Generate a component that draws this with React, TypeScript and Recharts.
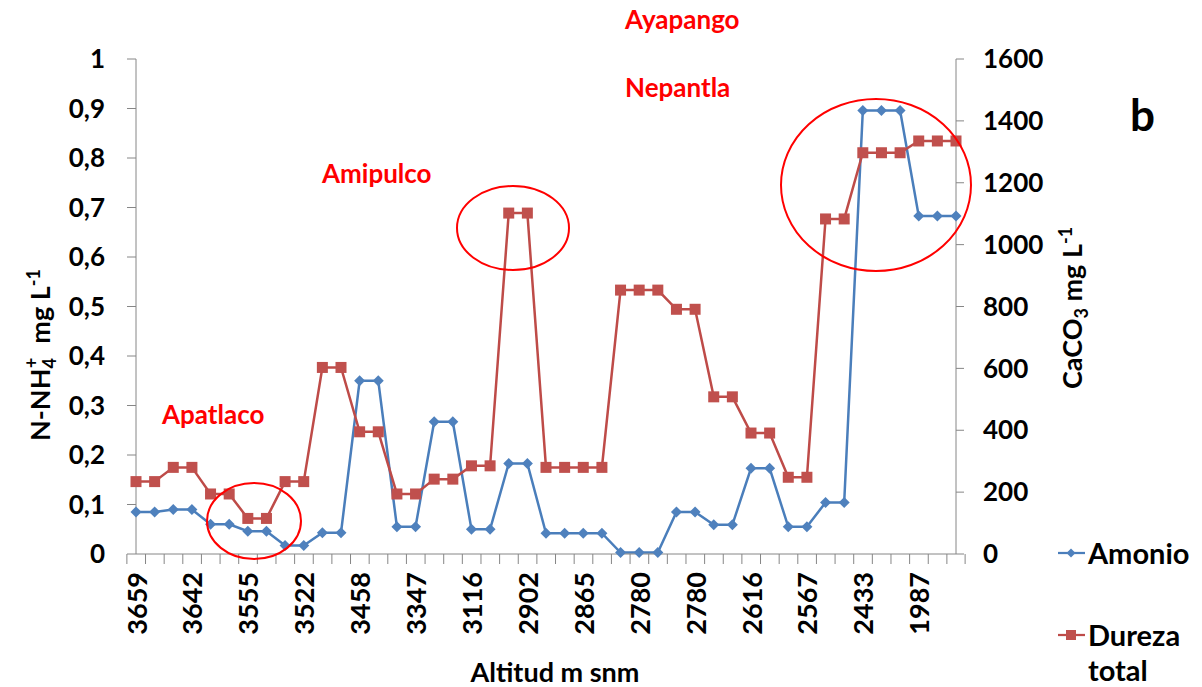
import React from "react";
import { LineChart, Line, XAxis, YAxis, Legend } from "recharts";

// Altitude of each site (m snm); every site has three sampling points
const altitudes = [
  "3659", "3642", "3555", "3522", "3458", "3347", "3116", "2902",
  "2865", "2780", "2780", "2616", "2567", "2433", "1987",
];
const categories = altitudes.flatMap((a) => [a, a, a]);

// N-NH4+ (mg L-1)
const amonio = [
  0.085, 0.085, 0.09, 0.09, 0.06, 0.06, 0.046, 0.046, 0.017, 0.017,
  0.043, 0.043, 0.35, 0.35, 0.055, 0.055, 0.267, 0.267, 0.05, 0.05,
  0.183, 0.183, 0.042, 0.042, 0.042, 0.042, 0.003, 0.003, 0.003, 0.085,
  0.085, 0.059, 0.059, 0.173, 0.173, 0.055, 0.055, 0.104, 0.104, 0.896,
  0.896, 0.896, 0.683, 0.683, 0.683,
];

// CaCO3 (mg L-1)
const dureza = [
  234, 234, 280, 280, 194, 194, 115, 115, 234, 234,
  603, 603, 395, 395, 194, 194, 242, 242, 285, 285,
  1102, 1102, 280, 280, 280, 280, 853, 853, 853, 791,
  791, 508, 508, 391, 391, 248, 248, 1083, 1083, 1297,
  1297, 1297, 1335, 1335, 1335,
];

const leftTicks = [0, 0.1, 0.2, 0.3, 0.4, 0.5, 0.6, 0.7, 0.8, 0.9, 1];
const rightTicks = [0, 200, 400, 600, 800, 1000, 1200, 1400, 1600];

const data = categories.map((name, i) => ({
  name,
  amonio: amonio[i],
  dureza: dureza[i],
}));

const FONT = "Lato, 'Open Sans', sans-serif";
const AXIS = "#868686";
const BLUE = "#4A7EBB";
const RED = "#BE4B48";
const PLOT_W = 820;
const BAND = PLOT_W / categories.length;

const XTick = (props: any) => {
  const { x, y, payload, index } = props;
  const half = BAND / 2;
  const ty = y + 18;
  return (
    <g>
      <line x1={x - half} y1={y} x2={x - half} y2={y + 10} stroke={AXIS} />
      {index === categories.length - 1 && (
        <line x1={x + half} y1={y} x2={x + half} y2={y + 10} stroke={AXIS} />
      )}
      {index % 3 === 0 && (
        <text
          x={x}
          y={ty}
          transform={`rotate(-90 ${x} ${ty})`}
          textAnchor="end"
          dominantBaseline="central"
          fontFamily={FONT}
          fontWeight={700}
          fontSize={27}
          fill="#000"
        >
          {payload.value}
        </text>
      )}
    </g>
  );
};

const Diamond = (props: any) => {
  const { cx, cy, index } = props;
  if (cx == null || cy == null) return <g key={index} />;
  const r = 5.5;
  return (
    <polygon
      key={index}
      points={`${cx},${cy - r} ${cx + r},${cy} ${cx},${cy + r} ${cx - r},${cy}`}
      fill="#4F81BD"
    />
  );
};

const Square = (props: any) => {
  const { cx, cy, index } = props;
  if (cx == null || cy == null) return <g key={index} />;
  const s = 11;
  return <rect key={index} x={cx - s / 2} y={cy - s / 2} width={s} height={s} fill="#C0504D" />;
};

const renderLegend = ({ payload }: any) => (
  <div style={{ fontFamily: FONT, fontWeight: 700, fontSize: 29, color: "#000" }}>
    {(payload || []).map((e: any, i: number) => (
      <div key={i} style={{ display: "flex", alignItems: "flex-start", marginBottom: 47 }}>
        <svg width={32} height={35} style={{ flex: "none" }}>
          <line x1={2} y1={18} x2={29} y2={18} stroke={e.color} strokeWidth={2.25} />
          {e.dataKey === "amonio" ? (
            <polygon points="15,13.5 19.5,18 15,22.5 10.5,18" fill="#4F81BD" />
          ) : (
            <rect x={10} y={13} width={10} height={10} fill="#C0504D" />
          )}
        </svg>
        <span style={{ lineHeight: "35px", width: 110 }}>{e.value}</span>
      </div>
    ))}
  </div>
);

export default function App() {
  const red = { fontFamily: FONT, fontWeight: 700, fontSize: 26, fill: "#FF0000" };
  return (
    <div style={{ position: "absolute", left: 0, top: 0, width: 1202, height: 687, background: "#fff" }}>
      <LineChart
        width={1202}
        height={687}
        data={data}
        margin={{ top: 59, right: 166, bottom: 33, left: 56 }}
      >
        <XAxis
          dataKey="name"
          interval={0}
          height={100}
          tickSize={0}
          tickMargin={0}
          tickLine={false}
          axisLine={{ stroke: AXIS }}
          tick={XTick}
        />
        <YAxis
          yAxisId="left"
          width={80}
          domain={[0, 1]}
          ticks={leftTicks}
          tickFormatter={(v: number) => String(v).replace(".", ",")}
          tickSize={9}
          tickMargin={22}
          axisLine={{ stroke: AXIS }}
          tickLine={{ stroke: AXIS }}
          tick={{ fontFamily: FONT, fontWeight: 700, fontSize: 26, fill: "#000" }}
        />
        <YAxis
          yAxisId="right"
          orientation="right"
          width={80}
          domain={[0, 1600]}
          ticks={rightTicks}
          tickSize={8}
          tickMargin={19}
          axisLine={{ stroke: AXIS }}
          tickLine={{ stroke: AXIS }}
          tick={{ fontFamily: FONT, fontWeight: 700, fontSize: 26, fill: "#000", textAnchor: "start" }}
        />
        <Legend
          layout="vertical"
          align="center"
          verticalAlign="middle"
          wrapperStyle={{ left: 1056, top: 535, width: 146 }}
          content={renderLegend}
        />
        <Line
          yAxisId="left"
          dataKey="amonio"
          name="Amonio"
          stroke={BLUE}
          strokeWidth={2.5}
          dot={Diamond}
          activeDot={false}
          isAnimationActive={false}
        />
        <Line
          yAxisId="right"
          dataKey="dureza"
          name="Dureza total"
          stroke={RED}
          strokeWidth={2.5}
          dot={Square}
          activeDot={false}
          isAnimationActive={false}
        />
      </LineChart>
      <svg
        width={1202}
        height={687}
        style={{ position: "absolute", left: 0, top: 0, pointerEvents: "none" }}
      >
        <ellipse cx={254} cy={521} rx={47} ry={38} fill="none" stroke="#FF0000" strokeWidth={2} />
        <ellipse cx={513} cy={228} rx={56} ry={42} fill="none" stroke="#FF0000" strokeWidth={2} />
        <ellipse cx={876} cy={185} rx={95} ry={86} fill="none" stroke="#FF0000" strokeWidth={2} />
        <text x={625} y={29} {...red}>Ayapango</text>
        <text x={625} y={97} {...red}>Nepantla</text>
        <text x={322} y={183} {...red}>Amipulco</text>
        <text x={162} y={424} {...red}>Apatlaco</text>
        <text x={1130} y={131} fontFamily={FONT} fontWeight={700} fontSize={44} fill="#000">b</text>
        <text x={555} y={682} textAnchor="middle" fontFamily={FONT} fontWeight={700} fontSize={27} fill="#000">
          Altitud m snm
        </text>
        <text
          x={50}
          y={355}
          transform="rotate(-90 50 355)"
          textAnchor="middle"
          fontFamily={FONT}
          fontWeight={700}
          fontSize={27}
          fill="#000"
        >
          N-NH<tspan dy={6} fontSize={18}>4</tspan>
          <tspan dx={-10} dy={-18} fontSize={18}>+</tspan>
          <tspan dx={14} dy={12}>{"mg L"}</tspan>
          <tspan dy={-10} fontSize={18}>-1</tspan>
        </text>
        <text
          x={1082}
          y={308}
          transform="rotate(-90 1082 308)"
          textAnchor="middle"
          fontFamily={FONT}
          fontWeight={700}
          fontSize={27}
          fill="#000"
        >
          CaCO<tspan dy={6} fontSize={18}>3</tspan>
          <tspan dy={-6}>{" mg L"}</tspan>
          <tspan dy={-10} fontSize={18}>-1</tspan>
        </text>
      </svg>
    </div>
  );
}
